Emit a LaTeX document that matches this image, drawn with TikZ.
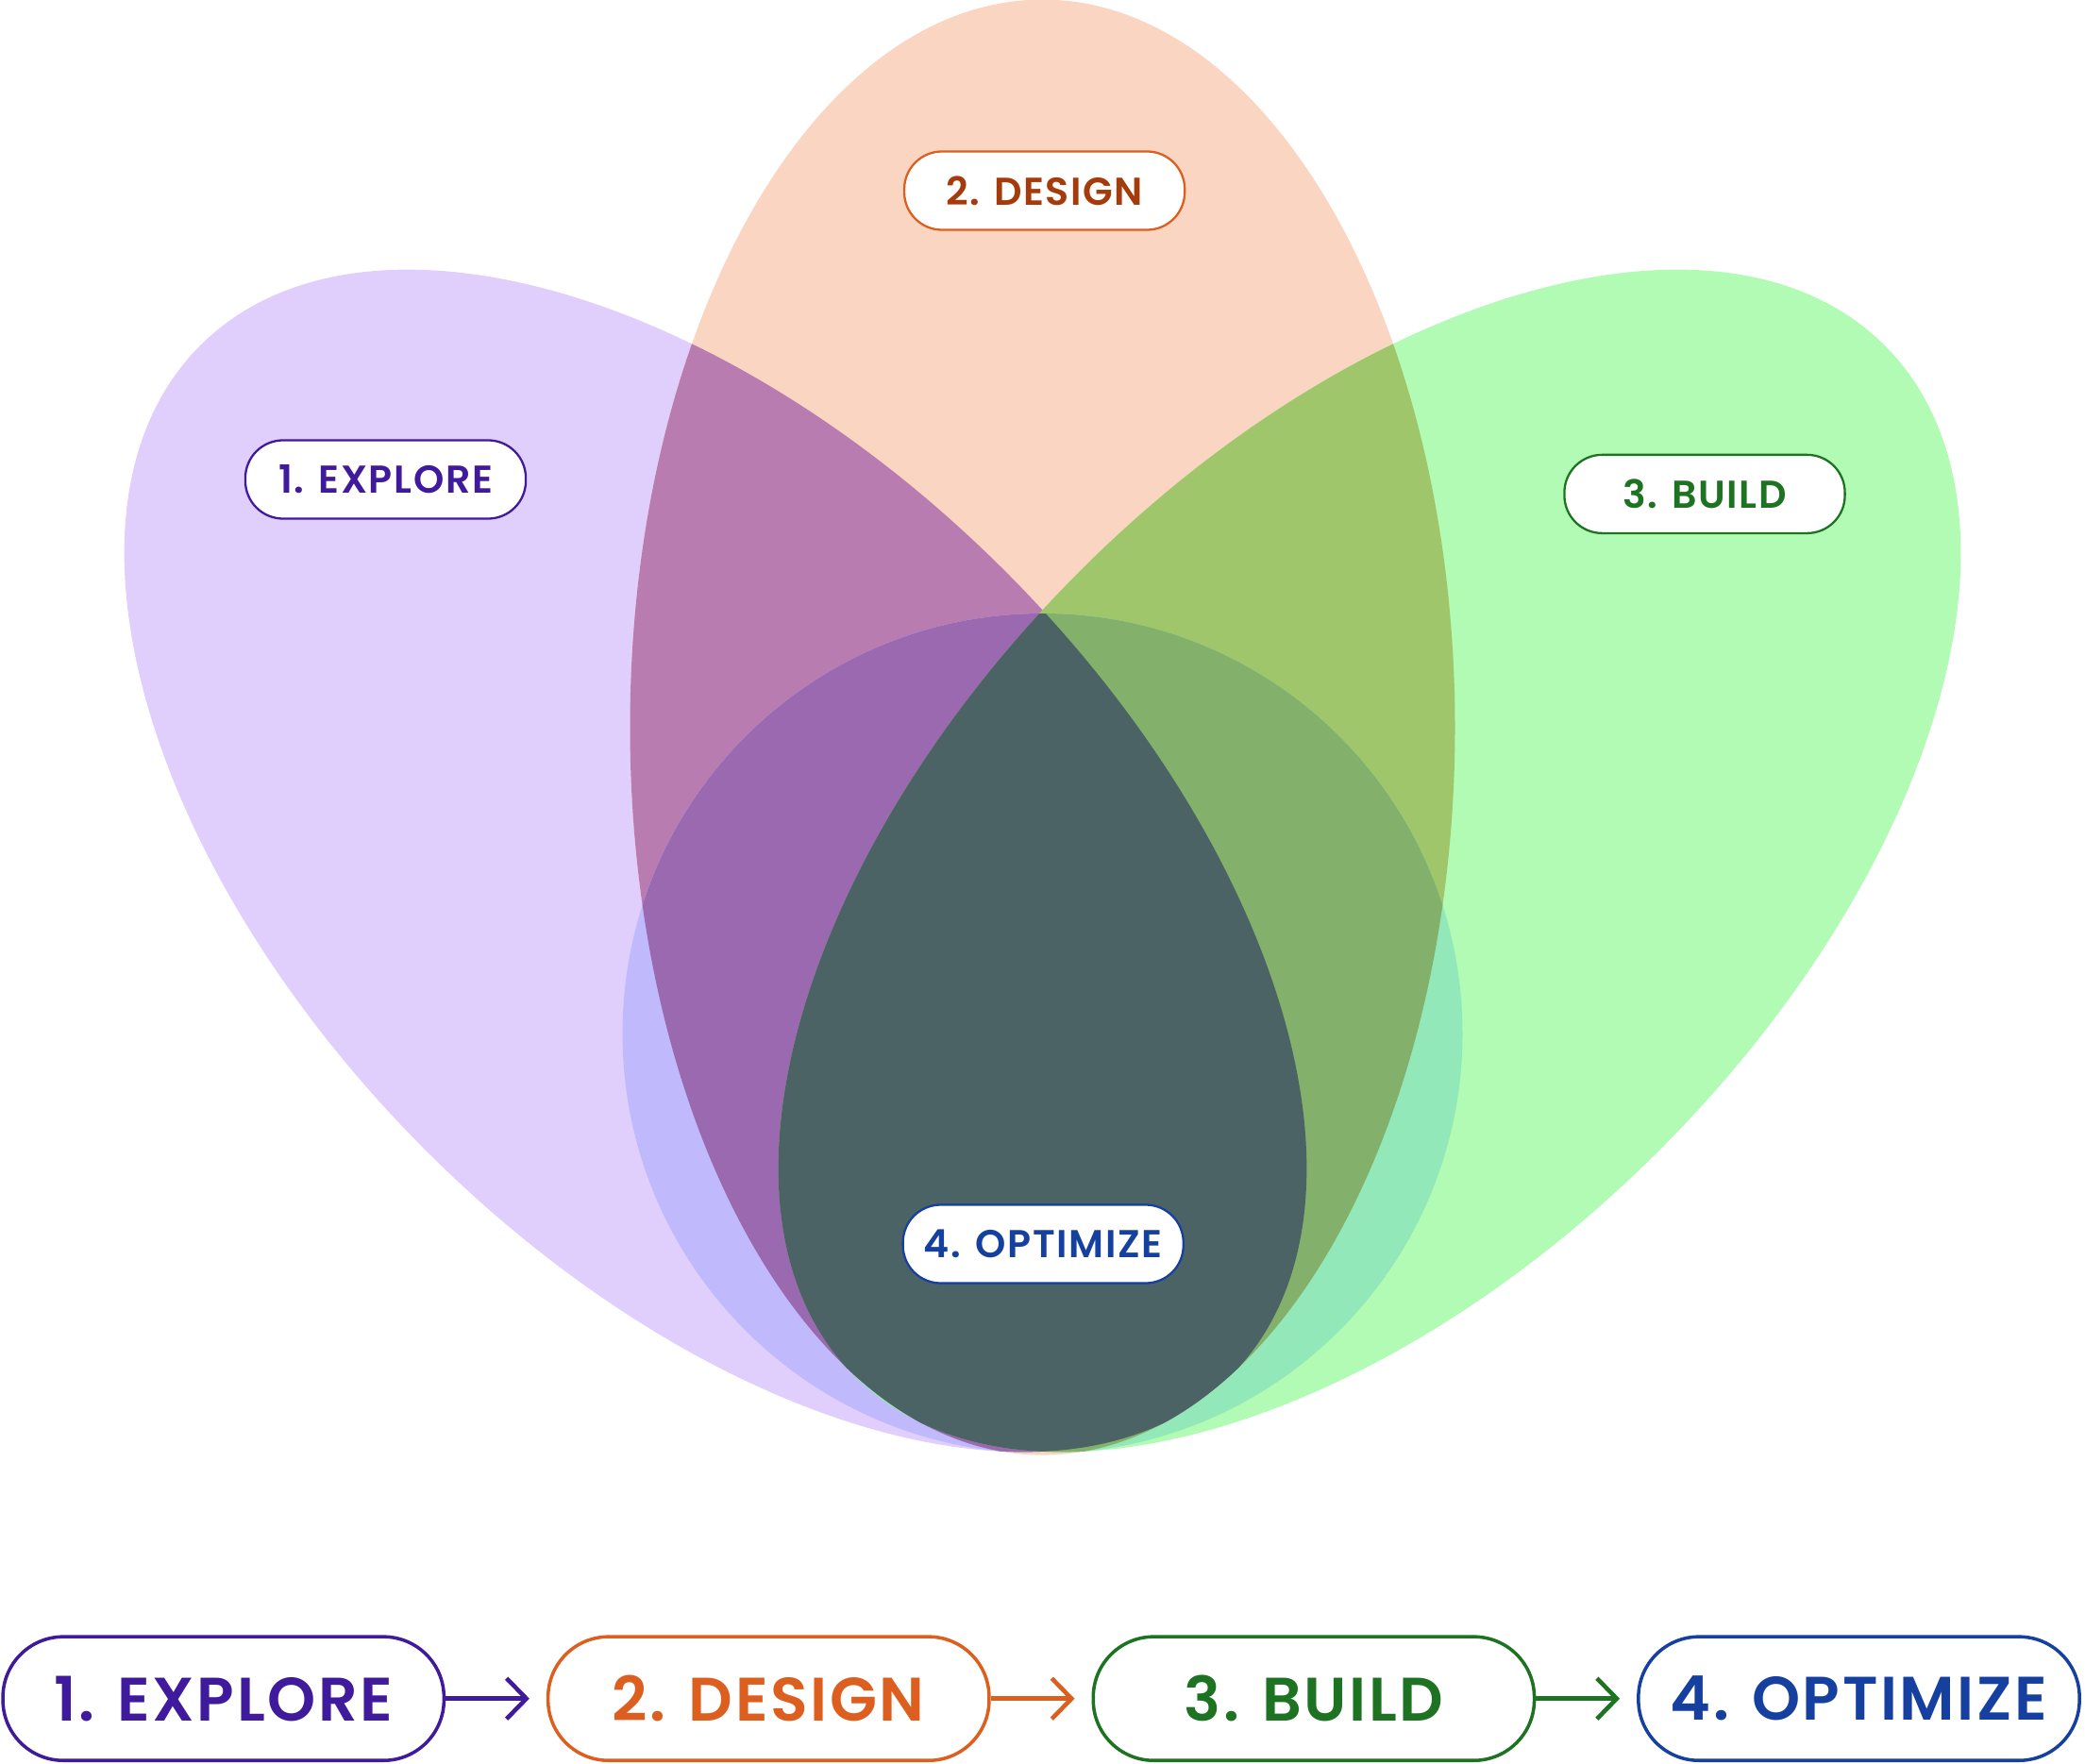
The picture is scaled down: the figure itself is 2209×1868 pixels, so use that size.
\documentclass[tikz,border=0pt]{standalone}
\usepackage{fontspec}
\setmainfont{Poppins}[BoldFont={Poppins SemiBold},BoldFeatures={LetterSpace=4}]
\usepackage{tikz}
\usetikzlibrary{arrows.meta}
\definecolor{lav}{HTML}{E0CFFC}
\definecolor{peach}{HTML}{FAD5C2}
\definecolor{lgreen}{HTML}{B2FBB4}
\definecolor{mauve}{HTML}{B97CB0}
\definecolor{olive}{HTML}{A0C66C}
\definecolor{bluelav}{HTML}{C0B9FC}
\definecolor{mint}{HTML}{92E8B8}
\definecolor{dpurple}{HTML}{9B69B0}
\definecolor{dgreen}{HTML}{83B06B}
\definecolor{teal}{HTML}{4C6366}
\definecolor{cexplore}{HTML}{3F1A9C}
\definecolor{cdesign}{HTML}{DD5F1F}
\definecolor{cdesigntxt}{HTML}{A53B0A}
\definecolor{cbuild}{HTML}{1D7322}
\definecolor{coptim}{HTML}{1540A0}

\begin{document}
\begin{tikzpicture}[x=0.01cm,y=0.01cm,>={Straight Barb[length=2.1mm,width=4.3mm]}]
 \tikzstyle{tagnode} = [draw,fill=white,line width=0.65pt,rounded corners=4mm,minimum width=2.97cm,minimum height=0.83cm,inner sep=0,font=\bfseries\fontsize{11.7}{12}\selectfont]
 \tikzstyle{stepnode} = [draw,line width=1pt,rounded corners=6.4mm,minimum width=4.67cm,minimum height=1.31cm,inner sep=0,font=\bfseries\fontsize{18.5}{20}\selectfont]
 \tikzstyle{flow} = [->,line width=1.3pt,shorten >=1.8mm]

 \useasboundingbox (0,0) rectangle (2209,1868);

% Petals
 \fill[lav,rotate around={-45:(758,956)}] (758,956) ellipse [x radius=772,y radius=434];
 \fill[peach] (1104.5,1097.4) ellipse [x radius=437,y radius=771];
 \fill[lgreen,rotate around={45:(1451,956)}] (1451,956) ellipse [x radius=772,y radius=434];

% Overlaps (no blending, each piece filled by hand)
 \begin{scope}
  \clip[rotate around={-45:(758,956)}] (758,956) ellipse [x radius=772,y radius=434];
  \fill[mauve] (1104.5,1097.4) ellipse [x radius=437,y radius=771];
 \end{scope}
 \begin{scope}
  \clip[rotate around={45:(1451,956)}] (1451,956) ellipse [x radius=772,y radius=434];
  \fill[olive] (1104.5,1097.4) ellipse [x radius=437,y radius=771];
 \end{scope}
 \begin{scope}
  \clip (1104.5,773) circle [radius=445];
  \fill[bluelav,rotate around={-45:(758,956)}] (758,956) ellipse [x radius=772,y radius=434];
  \fill[mint,rotate around={45:(1451,956)}] (1451,956) ellipse [x radius=772,y radius=434];
  \begin{scope}
   \clip (1104.5,1097.4) ellipse [x radius=437,y radius=771];
   \fill[dpurple,rotate around={-45:(758,956)}] (758,956) ellipse [x radius=772,y radius=434];
   \fill[dgreen,rotate around={45:(1451,956)}] (1451,956) ellipse [x radius=772,y radius=434];
   \clip[rotate around={-45:(758,956)}] (758,956) ellipse [x radius=772,y radius=434];
   \fill[teal,rotate around={45:(1451,956)}] (1451,956) ellipse [x radius=772,y radius=434];
  \end{scope}
 \end{scope}

% Tags on the petals
 \node[tagnode,draw=cexplore,text=cexplore] (tag1) at (408.5,1360) {1. EXPLORE};
 \node[tagnode,draw=cdesign,text=cdesigntxt] (tag2) at (1106.6,1666) {2. DESIGN};
 \node[tagnode,draw=cbuild,text=cbuild] (tag3) at (1806,1344.6) {3. BUILD};
 \node[tagnode,draw=coptim,text=coptim] (tag4) at (1105.2,550) {4. OPTIMIZE};

% Steps
 \node[stepnode,draw=cexplore,text=cexplore] (st1) at (236.7,68.3) {1. EXPLORE};
 \node[stepnode,draw=cdesign,text=cdesign] (st2) at (814.3,68.3) {2. DESIGN};
 \node[stepnode,draw=cbuild,text=cbuild] (st3) at (1391.9,68.3) {3. BUILD};
 \node[stepnode,draw=coptim,text=coptim] (st4) at (1969.5,68.3) {4. OPTIMIZE};

 \draw[flow,cexplore] (st1) -- (st2);
 \draw[flow,cdesign] (st2) -- (st3);
 \draw[flow,cbuild] (st3) -- (st4);

\end{tikzpicture}
\end{document}
